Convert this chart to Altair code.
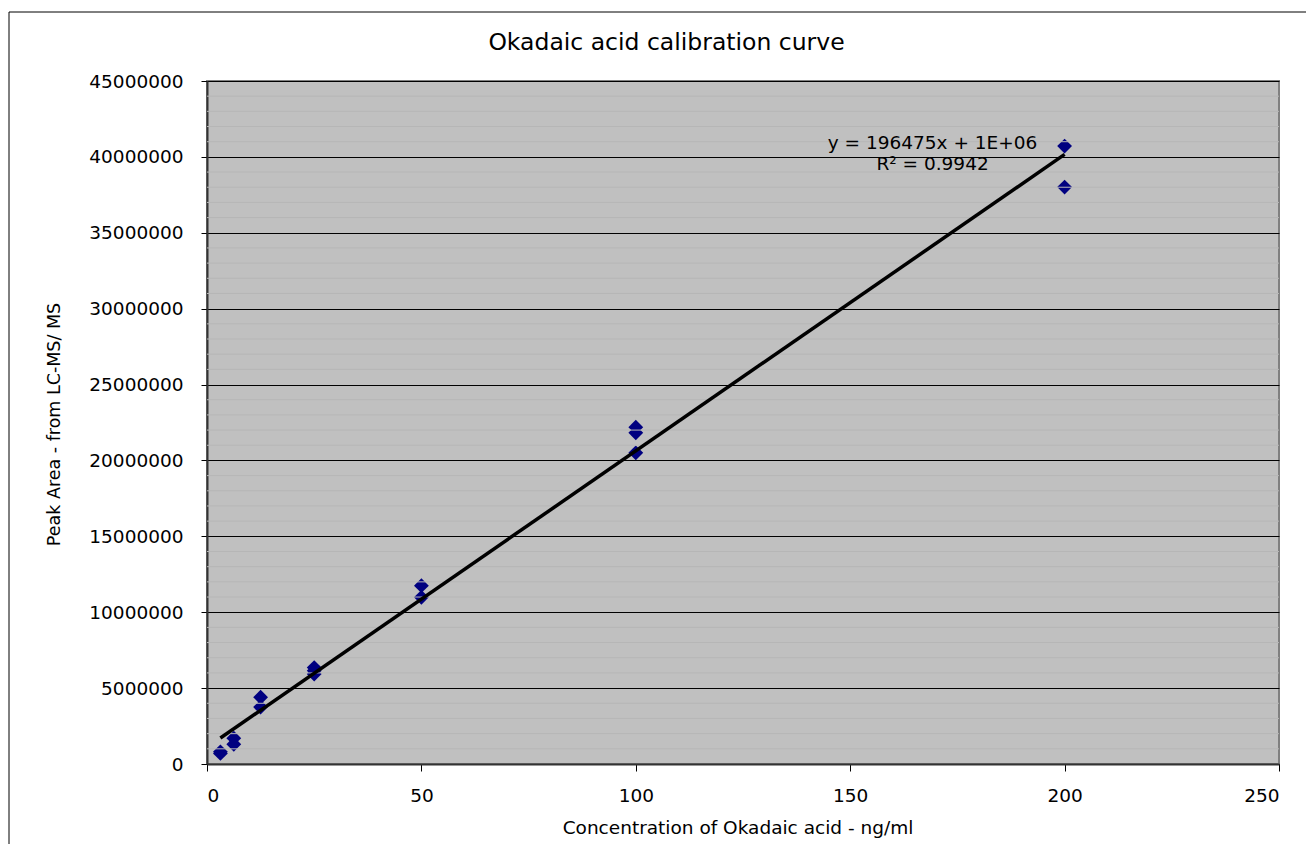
import altair as alt
import pandas as pd

# ---- data ----
conc = [3.125, 3.125, 6.25, 6.25, 12.5, 12.5, 25, 25, 25, 50, 50, 100, 100, 100, 200, 200]
area = [700000, 800000, 1700000, 1300000, 4400000, 3750000, 6350000, 6150000, 5930000,
        11750000, 10980000, 22190000, 21820000, 20500000, 40710000, 38010000]

y_major = [0, 5000000, 10000000, 15000000, 20000000, 25000000, 30000000, 35000000, 40000000, 45000000]
y_minor = [v for v in range(0, 45000001, 1000000) if v % 5000000 != 0]
x_ticks = [0, 50, 100, 150, 200, 250]

note_lines = ["y = 196475x  + 1E+06", "R\u00b2 = 0.9942"]
note_x = [169.2, 169.2]
note_y = [40930000, 39510000]

title_text = "Okadaic acid calibration curve"
x_title = "Concentration of Okadaic acid - ng/ml"
y_title = "Peak Area - from LC-MS/ MS"

FONT = "DejaVu Sans"

df = pd.DataFrame({"conc": conc, "area": area})
notes = pd.DataFrame({"x": note_x, "y": note_y, "label": note_lines})
minor_df = pd.DataFrame({"area": y_minor})

xscale = alt.Scale(domain=[0, 250], nice=False)
yscale = alt.Scale(domain=[0, 45000000], nice=False)

x_axis = alt.Axis(values=x_ticks, grid=False, title=x_title, labelFontSize=18.5,
                  tickSize=7, labelPadding=15, titleFontSize=18.5,
                  titleX=530.5, titleY=69, titleBaseline="alphabetic", titleAnchor="middle")
y_axis = alt.Axis(values=y_major, format="d", grid=True, gridColor="#000000", gridWidth=1,
                  title=y_title, labelFontSize=18.5, tickSize=6, labelPadding=18,
                  titleFontSize=17.5, titleAngle=270, titleX=-148, titleY=343,
                  titleBaseline="alphabetic", titleAlign="center")

points = alt.Chart(df).mark_point(shape="diamond", filled=True, size=220,
                                  color="#000080", opacity=1).encode(
    x=alt.X("conc:Q", scale=xscale, axis=x_axis),
    y=alt.Y("area:Q", scale=yscale, axis=y_axis),
)

minor = alt.Chart(minor_df).mark_rule(color="#B6B6B6", strokeWidth=1).encode(
    y=alt.Y("area:Q", scale=yscale, axis=y_axis),
)

trend = alt.Chart(df).transform_regression("conc", "area").mark_line(
    color="black", strokeWidth=3.5).encode(
    x=alt.X("conc:Q", scale=xscale, axis=x_axis),
    y=alt.Y("area:Q", scale=yscale, axis=y_axis),
)

eq = alt.Chart(notes).mark_text(font=FONT, fontSize=18.5, color="black",
                                align="center", baseline="middle").encode(
    x=alt.X("x:Q", scale=xscale, axis=x_axis),
    y=alt.Y("y:Q", scale=yscale, axis=y_axis),
    text="label:N",
)

title = alt.Chart(pd.DataFrame({"t": [title_text]})).mark_text(
    font=FONT, fontSize=23.5, color="black", align="center", baseline="alphabetic").encode(
    x=alt.value(459.5), y=alt.value(-31), text="t:N")

frame_top = alt.Chart(pd.DataFrame({"f": [0]})).mark_rule(color="black", strokeWidth=1).encode(
    x=alt.value(-198), x2=alt.value(1200), y=alt.value(-69))
frame_left = alt.Chart(pd.DataFrame({"f": [0]})).mark_rule(color="black", strokeWidth=1).encode(
    x=alt.value(-198), y=alt.value(-69), y2=alt.value(900))

chart = alt.layer(points, minor, trend, eq, title, frame_top, frame_left).properties(
    width=1072, height=683,
    autosize=alt.AutoSizeParams(type="none"),
    padding={"left": 199, "top": 73, "right": 27, "bottom": 80},
    background="white",
).configure_view(
    fill="#C0C0C0", stroke="#808080", strokeWidth=2
).configure_axis(
    labelFont=FONT, titleFont=FONT, labelColor="black", titleColor="black",
    titleFontWeight="normal", tickColor="black", domainColor="#333333", domainWidth=2,
)

chart.save("out.html", embed_options={"renderer": "svg", "actions": False})
